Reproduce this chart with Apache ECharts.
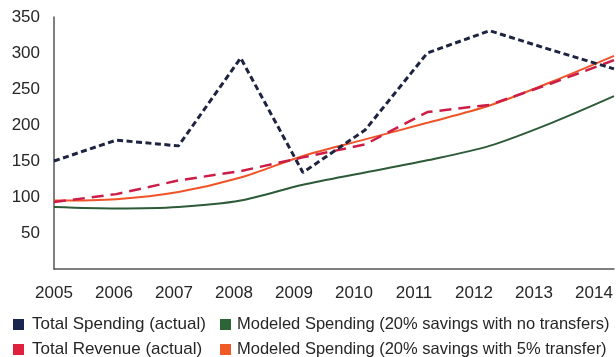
<!DOCTYPE html>
<html>
<head>
<meta charset="utf-8">
<script src="https://cdn.jsdelivr.net/npm/echarts@6/dist/echarts.min.js"></script>
<style>
  html, body { margin: 0; padding: 0; background: #fff; }
  #chart { width: 616px; height: 357px; }
</style>
</head>
<body>
<div id="chart"></div>
<script>
// Years on the horizontal axis
const years = ['2005', '2006', '2007', '2008', '2009', '2010', '2011', '2012', '2013', '2014'];

// Series values (in the same order as years)
const totalSpending = [150, 179, 171, 293, 134, 193, 300, 331, 304, 278];
const totalRevenue = [93, 104, 123, 136, 155, 173, 218, 228, 258, 290];
const modeledNoTransfers = [86, 84, 86, 95, 117, 134, 151, 171, 203, 240];
const modeledFivePct = [95, 97, 107, 127, 157, 180, 203, 227, 260, 296];

// Vertical axis range
const yMin = 0, yMax = 350, yStep = 50;

const FONT = '"Liberation Sans", Arial, Helvetica, sans-serif';
const COLORS = {
  spending: '#1d2340',
  revenue: '#cc1d48',
  noTransfers: '#2d5b38',
  fivePct: '#ef5428'
};
const SWATCH = {
  spending: '#1b2650',
  revenue: '#e0213d',
  noTransfers: '#2c6437',
  fivePct: '#f05a26'
};

const chart = echarts.init(document.getElementById('chart'), null, { renderer: 'canvas' });

function legendItem(name, color, left, top, size, gap) {
  return {
    left: left, top: top,
    itemWidth: 11, itemHeight: 11,
    itemGap: 0,
    icon: 'rect',
    padding: 0,
    selectedMode: false,
    textStyle: { fontFamily: FONT, fontSize: size, color: '#262626', padding: [0, 0, 0, gap] },
    data: [{ name: name, itemStyle: { color: color } }]
  };
}

chart.setOption({
  animation: false,
  backgroundColor: '#ffffff',
  grid: [
    { left: 54, right: 2, top: 17, bottom: 88, containLabel: false },
    // label row for the year ticks
    { left: 54, right: 22, top: 17, bottom: 88, containLabel: false }
  ],
  legend: [
    legendItem('Total Spending (actual)', SWATCH.spending, 13, 316, 17, 3),
    legendItem('Modeled Spending (20% savings with no transfers)', SWATCH.noTransfers, 220, 316, 16.5, 1),
    legendItem('Total Revenue (actual)', SWATCH.revenue, 13, 341, 17, 3),
    legendItem('Modeled Spending (20% savings with 5% transfer)', SWATCH.fivePct, 220, 341, 16.5, 1)
  ],
  xAxis: [
    {
      type: 'category', gridIndex: 0, data: years, boundaryGap: false,
      axisLine: { show: true, lineStyle: { color: '#555', width: 1.5 } },
      axisTick: { show: false },
      axisLabel: { show: false },
      splitLine: { show: false }
    },
    {
      type: 'category', gridIndex: 1, data: years, boundaryGap: false,
      axisLine: { show: false },
      axisTick: { show: false },
      axisLabel: { show: true, margin: 16, fontFamily: FONT, fontSize: 17, color: '#262626' },
      splitLine: { show: false }
    }
  ],
  yAxis: [
    {
      type: 'value', gridIndex: 0, min: yMin, max: yMax, interval: yStep,
      axisLine: { show: true, lineStyle: { color: '#555', width: 1.5 } },
      axisTick: { show: false },
      axisLabel: {
        margin: 14, fontFamily: FONT, fontSize: 17, color: '#262626',
        formatter: v => (v === 0 ? '' : String(v))
      },
      splitLine: { show: false }
    },
    {
      type: 'value', gridIndex: 1, min: yMin, max: yMax, show: false
    }
  ],
  series: [
    {
      name: 'Modeled Spending (20% savings with no transfers)', type: 'line',
      xAxisIndex: 0, yAxisIndex: 0, data: modeledNoTransfers, smooth: 0.3,
      showSymbol: false, color: SWATCH.noTransfers,
      lineStyle: { color: COLORS.noTransfers, width: 2 }
    },
    {
      name: 'Modeled Spending (20% savings with 5% transfer)', type: 'line',
      xAxisIndex: 0, yAxisIndex: 0, data: modeledFivePct, smooth: 0.3,
      showSymbol: false, color: SWATCH.fivePct,
      lineStyle: { color: COLORS.fivePct, width: 2 }
    },
    {
      name: 'Total Revenue (actual)', type: 'line',
      xAxisIndex: 0, yAxisIndex: 0, data: totalRevenue,
      showSymbol: false, color: SWATCH.revenue,
      lineStyle: { color: COLORS.revenue, width: 2.5, type: [12, 7] }
    },
    {
      name: 'Total Spending (actual)', type: 'line',
      xAxisIndex: 0, yAxisIndex: 0, data: totalSpending,
      showSymbol: false, color: SWATCH.spending,
      lineStyle: { color: COLORS.spending, width: 3, type: [6, 3.5] }
    }
  ]
});
</script>
</body>
</html>
